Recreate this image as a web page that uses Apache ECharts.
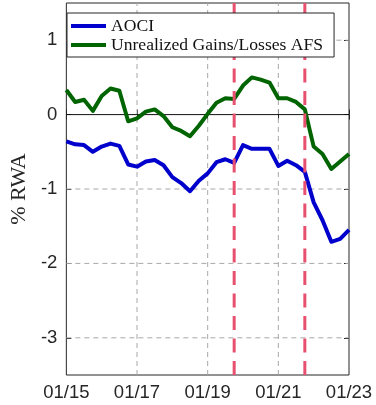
<!DOCTYPE html>
<html>
<head>
<meta charset="utf-8">
<script src="https://cdn.jsdelivr.net/npm/echarts@6/dist/echarts.min.js"></script>
<style>
  html, body { margin: 0; padding: 0; background: #fff; }
  #chart { width: 376px; height: 405px; }
</style>
</head>
<body>
<div id="chart"></div>
<script>
// Quarterly observations, 2015Q1 .. 2023Q1
const quarters = [
  '2015Q1','2015Q2','2015Q3','2015Q4',
  '2016Q1','2016Q2','2016Q3','2016Q4',
  '2017Q1','2017Q2','2017Q3','2017Q4',
  '2018Q1','2018Q2','2018Q3','2018Q4',
  '2019Q1','2019Q2','2019Q3','2019Q4',
  '2020Q1','2020Q2','2020Q3','2020Q4',
  '2021Q1','2021Q2','2021Q3','2021Q4',
  '2022Q1','2022Q2','2022Q3','2022Q4',
  '2023Q1'
];

// Accumulated other comprehensive income, % of RWA
const aoci = [
  -0.36, -0.40, -0.41, -0.50, -0.43, -0.39, -0.42, -0.67,
  -0.70, -0.63, -0.61, -0.68, -0.84, -0.92, -1.03, -0.89,
  -0.79, -0.64, -0.60, -0.65, -0.41, -0.46, -0.46, -0.46,
  -0.69, -0.62, -0.68, -0.77, -1.18, -1.42, -1.71, -1.67,
  -1.55
];

// Unrealized gains/losses on AFS securities, % of RWA
const afs = [
   0.33,  0.17,  0.20,  0.05,  0.25,  0.35,  0.32, -0.09,
  -0.05,  0.04,  0.07, -0.02, -0.17, -0.22, -0.29, -0.15,
   0.01,  0.16,  0.22,  0.21,  0.39,  0.50,  0.47,  0.43,
   0.22,  0.22,  0.17,  0.07, -0.43, -0.53, -0.73, -0.63,
  -0.53
];

// Event markers
const eventQuarters = ['2019Q4', '2021Q4'];

// Axis ticks and grid
const yTicks = [-3, -2, -1, 0, 1];
const yGridLines = [-3, -2, -1, 1];
const xGridQuarters = ['2017Q1', '2019Q1', '2021Q1'];
const seriesNames = ['AOCI', 'Unrealized Gains/Losses AFS'];

function dateLabel(q) {
  const yy = q.slice(2, 4);
  const qn = +q.slice(5);
  const mm = String((qn - 1) * 3 + 1).padStart(2, '0');
  return mm + '/' + yy;
}

const labelColor = '#262626';
const gridGray = '#a8a8a8';
const tickFont = { color: labelColor, fontFamily: 'Liberation Sans', fontSize: 18.5 };
const tickStyle = { show: true, inside: true, length: 5, lineStyle: { color: '#262626' } };

// Full-height vertical line at a category, drawn bottom to top
function verticalLine(style) {
  return function (params, api) {
    const cs = params.coordSys;
    const x = api.coord([api.value(0), 0])[0];
    return {
      type: 'line',
      shape: { x1: x, y1: cs.y + cs.height, x2: x, y2: cs.y },
      style: style
    };
  };
}

// Full-width horizontal line at a value
function horizontalLine(style) {
  return function (params, api) {
    const cs = params.coordSys;
    const y = api.coord([0, api.value(1)])[1];
    return {
      type: 'line',
      shape: { x1: cs.x, y1: y, x2: cs.x + cs.width, y2: y },
      style: style
    };
  };
}

const chart = echarts.init(document.getElementById('chart'), null, { renderer: 'canvas' });

chart.setOption({
  animation: false,
  backgroundColor: '#ffffff',
  grid: {
    left: 58, right: 27, top: 3, bottom: 30,
    show: true, borderColor: '#262626', borderWidth: 1,
    backgroundColor: 'transparent'
  },
  legend: {
    data: seriesNames,
    orient: 'vertical',
    left: 67, top: 13,
    icon: 'rect',
    itemWidth: 35, itemHeight: 4,
    itemGap: 1,
    padding: [4, 11, 3, 4],
    backgroundColor: '#ffffff',
    borderColor: '#262626',
    borderWidth: 1,
    z: 10,
    textStyle: { fontFamily: 'Liberation Serif', fontSize: 17.6, color: '#111' }
  },
  xAxis: [{
    type: 'category',
    data: quarters,
    boundaryGap: false,
    axisLine: { show: false },
    axisTick: Object.assign({ interval: 7 }, tickStyle),
    axisLabel: Object.assign({
      interval: 7, margin: 8,
      alignMinLabel: 'center', alignMaxLabel: 'center',
      formatter: dateLabel
    }, tickFont),
    splitLine: { show: false }
  }, {
    // top ticks
    type: 'category',
    data: quarters,
    boundaryGap: false,
    position: 'top',
    axisLine: { show: false },
    axisTick: Object.assign({ interval: 7 }, tickStyle),
    axisLabel: { show: false },
    splitLine: { show: false }
  }],
  yAxis: [{
    type: 'value',
    min: -3.5, max: 1.5,
    name: '% RWA',
    nameLocation: 'middle',
    nameGap: 33,
    nameRotate: 90,
    nameTextStyle: { fontFamily: 'Liberation Serif', fontSize: 22, color: labelColor },
    axisLine: { show: false },
    axisTick: Object.assign({ customValues: yTicks }, tickStyle),
    axisLabel: Object.assign({ customValues: yTicks, margin: 9 }, tickFont),
    splitLine: { show: false }
  }, {
    // right ticks
    type: 'value',
    min: -3.5, max: 1.5,
    position: 'right',
    axisLine: { show: false },
    axisTick: Object.assign({ customValues: yTicks }, tickStyle),
    axisLabel: { show: false },
    splitLine: { show: false }
  }],
  series: [
    {
      name: 'vgrid',
      type: 'custom',
      z: 1,
      silent: true,
      data: xGridQuarters.map(q => [q, 0]),
      renderItem: verticalLine({ stroke: gridGray, lineWidth: 1, lineDash: [5, 4] })
    },
    {
      name: 'hgrid',
      type: 'custom',
      z: 1,
      silent: true,
      data: yGridLines.map(v => [quarters[0], v]),
      renderItem: horizontalLine({ stroke: gridGray, lineWidth: 1, lineDash: [5, 4] })
    },
    {
      name: 'zero',
      type: 'custom',
      z: 2,
      silent: true,
      data: [[quarters[0], 0]],
      renderItem: horizontalLine({ stroke: '#111', lineWidth: 1 })
    },
    {
      name: seriesNames[0],
      type: 'line',
      data: aoci,
      z: 3,
      showSymbol: false,
      symbol: 'none',
      color: '#0000cd',
      lineStyle: { color: '#0000cd', width: 4, join: 'round' }
    },
    {
      name: seriesNames[1],
      type: 'line',
      data: afs,
      z: 3,
      showSymbol: false,
      symbol: 'none',
      color: '#006400',
      lineStyle: { color: '#006400', width: 4, join: 'round' }
    },
    {
      name: 'events',
      type: 'custom',
      z: 4,
      silent: true,
      data: eventQuarters.map(q => [q, 0]),
      renderItem: verticalLine({ stroke: '#e8506f', lineWidth: 3, lineDash: [14, 8.5] })
    }
  ]
});
</script>
</body>
</html>
